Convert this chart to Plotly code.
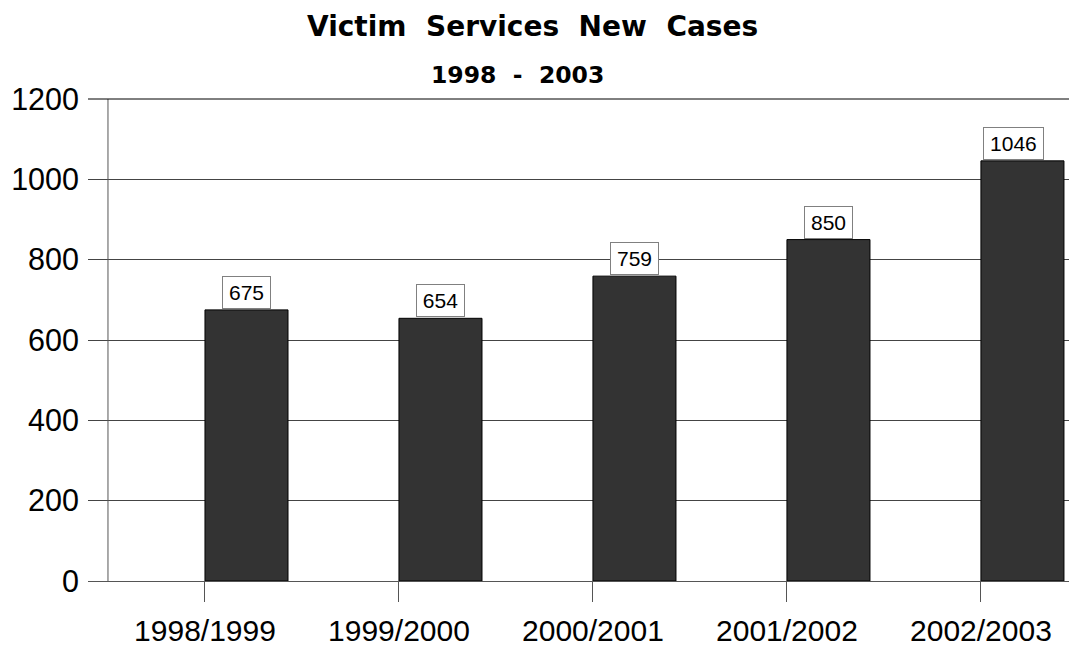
import plotly.graph_objects as go

categories = ["1998/1999", "1999/2000", "2000/2001", "2001/2002", "2002/2003"]
new_cases = [675, 654, 759, 850, 1046]
y_ticks = [0, 200, 400, 600, 800, 1000, 1200]

BAR_W = 0.428

fig = go.Figure()
fig.add_trace(go.Bar(
    x=categories, y=new_cases, offset=0, width=BAR_W,
    marker=dict(color="#333333", line=dict(color="#000000", width=1)),
    hoverinfo="x+y",
))

for i, v in enumerate(new_cases):
    fig.add_annotation(
        x=i + BAR_W / 2, y=v, xref="x", yref="y", text=str(v),
        showarrow=False, yanchor="bottom", yshift=1,
        xshift=(-9 if i == len(new_cases) - 1 else 0),
        width=len(str(v)) * 11.7 + 8, height=27,
        font=dict(family="Liberation Sans, Arial", size=21, color="#000000"),
        bgcolor="#ffffff", bordercolor="#808080", borderwidth=1, borderpad=2,
    )

fig.add_annotation(
    x=0.4536, y=1.151, xref="paper", yref="paper", showarrow=False,
    text="Victim\u00a0 Services\u00a0 New\u00a0 Cases", yanchor="middle",
    font=dict(family="DejaVu Sans", size=28, color="#000000", weight="bold"),
)
fig.add_annotation(
    x=0.438, y=1.05, xref="paper", yref="paper", showarrow=False,
    text="1998\u00a0 -\u00a0 2003", yanchor="middle",
    font=dict(family="DejaVu Sans", size=23.5, color="#000000", weight="bold"),
)

# y-axis line
fig.add_shape(type="line", xref="x", yref="paper", x0=-0.5, x1=-0.5, y0=0, y1=1,
              line=dict(color="#555555", width=1))
# top border line at 1200
fig.add_shape(type="line", xref="paper", yref="paper", x0=0, x1=1, y0=1, y1=1,
              line=dict(color="#000000", width=1))

fig.update_layout(
    width=1069, height=648,
    margin=dict(l=88, r=0, t=99, b=67),
    paper_bgcolor="#ffffff", plot_bgcolor="#ffffff",
    showlegend=False,
    font=dict(family="Liberation Sans, Arial", color="#000000"),
)
fig.update_xaxes(
    range=[-0.603, 4.454], showgrid=False, zeroline=False, showline=False,
    ticks="outside", ticklen=20, tickcolor="#555555", tickwidth=1,
    ticklabelstandoff=3, automargin=False,
    tickfont=dict(size=30, color="#000000"),
)
fig.update_yaxes(
    range=[0, 1200], tickvals=y_ticks, showgrid=True, gridcolor="#444444", gridwidth=1,
    zeroline=True, zerolinecolor="#555555", zerolinewidth=1, showline=False,
    ticks="", ticklabelstandoff=8, automargin=False,
    tickfont=dict(size=30.5, color="#000000"),
)

fig.write_html("out.html")
